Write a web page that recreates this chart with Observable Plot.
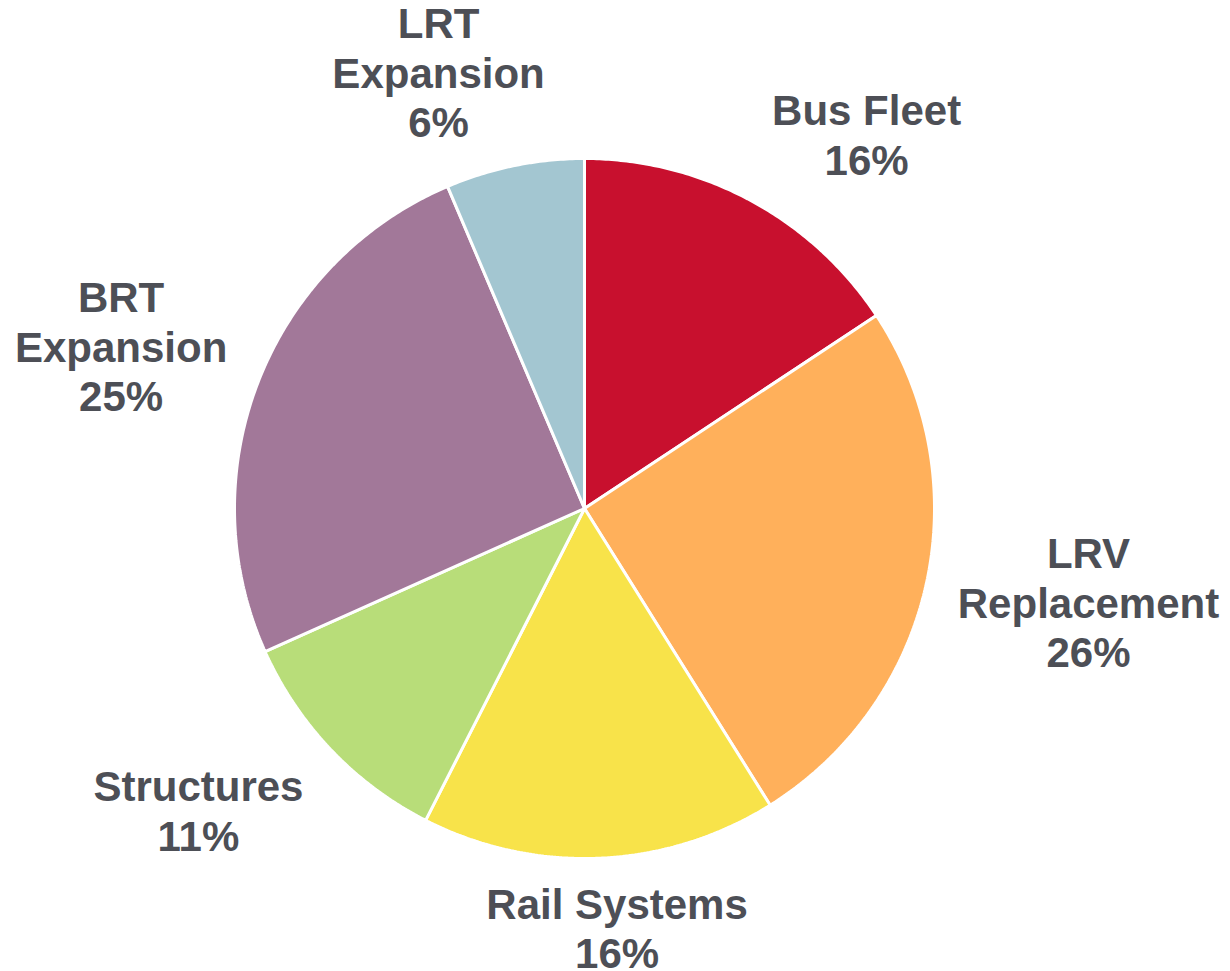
<!DOCTYPE html>
<html>
<head>
<meta charset="utf-8">
<script src="https://cdn.jsdelivr.net/npm/d3@7"></script>
<script src="https://cdn.jsdelivr.net/npm/@observablehq/plot@0.6"></script>
<style>
  html, body { margin: 0; padding: 0; background: #fff; overflow: hidden; }
  #chart svg { display: block; }
</style>
</head>
<body>
<div id="chart"></div>
<script>
// ---- Data (clockwise from 12 o'clock) ----
const categories = ["Bus Fleet", "LRV Replacement", "Rail Systems", "Structures", "BRT Expansion", "LRT Expansion"];
const shares = [15.7, 25.4, 16.4, 10.8, 25.3, 6.4];          // slice sizes
const percentLabels = ["16%", "26%", "16%", "11%", "25%", "6%"]; // printed labels
const labelLines = ["Bus Fleet", "LRV\nReplacement", "Rail Systems", "Structures", "BRT\nExpansion", "LRT\nExpansion"];

// ---- Styling / layout ----
const colors = ["#C8102E", "#FFB05B", "#F8E34A", "#B8DD79", "#A27899", "#A3C6D1"];
const W = 1230, H = 971;
const cx = 584, cy = 508, R = 350; // pixel center and radius
// label anchor positions in pie-radius units (x right, y up) relative to center
const labelLayout = {
  "Bus Fleet": [0.806, 1.069],
  "LRV Replacement": [1.44, -0.267],
  "Rail Systems": [0.093, -1.197],
  "Structures": [-1.103, -0.862],
  "BRT Expansion": [-1.324, 0.465],
  "LRT Expansion": [-0.417, 1.248]
};

// ---- Build slices ----
const pie = d3.pie().sort(null).value((d, i) => shares[i])(categories);
const slicePts = [];
pie.forEach((a, i) => {
  const cat = categories[i];
  slicePts.push({cat, x: 0, y: 0});
  const steps = Math.max(2, Math.ceil((a.endAngle - a.startAngle) / (Math.PI / 360)));
  for (let k = 0; k <= steps; k++) {
    const t = a.startAngle + (a.endAngle - a.startAngle) * k / steps;
    slicePts.push({cat, x: Math.sin(t), y: Math.cos(t)});
  }
  slicePts.push({cat, x: 0, y: 0});
});

const labels = categories.map((c, i) => ({
  cat: c,
  text: labelLines[i] + "\n" + percentLabels[i],
  x: labelLayout[c][0],
  y: labelLayout[c][1]
}));

const chart = Plot.plot({
  width: W,
  height: H,
  margin: 0,
  x: {domain: [-cx / R, (W - cx) / R], range: [0, W], axis: null},
  y: {domain: [-(H - cy) / R, cy / R], range: [H, 0], axis: null},
  color: {domain: categories, range: colors},
  style: {background: "#fff", fontFamily: "'Liberation Sans', Arial, sans-serif"},
  marks: [
    Plot.line(slicePts, {
      x: "x", y: "y", z: "cat", fill: "cat",
      stroke: "#fff", strokeWidth: 3, strokeLinejoin: "miter", curve: "linear"
    }),
    Plot.text(labels, {
      x: "x", y: "y", text: "text",
      fontSize: 42, fontWeight: "bold", fill: "#4D4F56",
      lineHeight: 1.18, lineAnchor: "middle", textAnchor: "middle",
      fontFamily: "'Liberation Sans', Arial, sans-serif"
    })
  ]
});
document.getElementById("chart").appendChild(chart);
</script>
</body>
</html>
